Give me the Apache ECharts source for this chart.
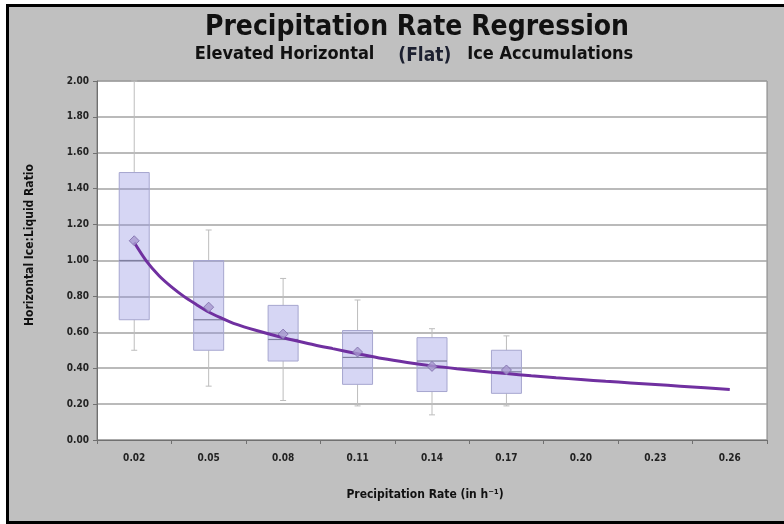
<!DOCTYPE html>
<html>
<head>
<meta charset="utf-8">
<script src="https://cdn.jsdelivr.net/npm/echarts@6/dist/echarts.min.js"></script>
<style>
html,body{margin:0;padding:0;background:#ffffff;}
#frame{position:absolute;left:6px;top:4px;width:778px;height:514px;border-left:3px solid #000;border-top:3px solid #000;border-bottom:3px solid #000;background:#c0c0c0;box-sizing:content-box;}
#chart{position:absolute;left:0;top:0;width:784px;height:524px;}
</style>
</head>
<body>
<div id="frame"></div>
<div id="chart"></div>
<script>
const categories = ['0.02','0.05','0.08','0.11','0.14','0.17','0.20','0.23','0.26'];
const boxMin    = [0.50, 0.30, 0.22, 0.19, 0.14, 0.19];
const boxQ1     = [0.67, 0.50, 0.44, 0.31, 0.27, 0.26];
const boxMedian = [1.00, 0.67, 0.56, 0.46, 0.44, 0.38];
const boxQ3     = [1.49, 1.00, 0.75, 0.61, 0.57, 0.50];
const boxMax    = [2.00, 1.17, 0.90, 0.78, 0.62, 0.58];
const means     = [1.11, 0.74, 0.59, 0.49, 0.41, 0.39];
const curveX = [0.02, 0.025, 0.03, 0.035, 0.04, 0.045, 0.05, 0.055, 0.06, 0.07, 0.08, 0.09, 0.10,
                0.11, 0.12, 0.13, 0.14, 0.15, 0.16, 0.17, 0.18, 0.19, 0.20, 0.21, 0.22, 0.23,
                0.24, 0.25, 0.26];
const curveY = [1.10, 0.995, 0.915, 0.853, 0.80, 0.755, 0.713, 0.68, 0.65, 0.607, 0.570, 0.538, 0.509,
                0.481, 0.454, 0.432, 0.413, 0.397, 0.383, 0.37, 0.358, 0.347, 0.337, 0.327, 0.318, 0.309,
                0.30, 0.291, 0.282];

const boxData = boxMin.map((v, i) => [i, boxMin[i], boxQ1[i], boxMedian[i], boxQ3[i], boxMax[i]]);
const meanData = means.map((v, i) => [i, v]);
const curveData = curveX.map((x, i) => [x, curveY[i]]);

const FONT = 'DejaVu Sans Condensed, DejaVu Sans, sans-serif';
const chart = echarts.init(document.getElementById('chart'), null, {renderer: 'canvas'});

function renderBox(params, api) {
  const idx = api.value(0);
  const pMin = api.coord([idx, api.value(1)]);
  const pQ1 = api.coord([idx, api.value(2)]);
  const pMed = api.coord([idx, api.value(3)]);
  const pQ3 = api.coord([idx, api.value(4)]);
  const pMax = api.coord([idx, api.value(5)]);
  const x = pQ1[0];
  const hw = 15;
  const cap = 3;
  const wStyle = {stroke: '#bdbdbd', lineWidth: 1};
  return {
    type: 'group',
    children: [
      {type: 'line', shape: {x1: x, y1: pMin[1], x2: x, y2: pQ1[1]}, style: wStyle},
      {type: 'line', shape: {x1: x, y1: pQ3[1], x2: x, y2: pMax[1]}, style: wStyle},
      {type: 'line', shape: {x1: x - cap, y1: pMin[1], x2: x + cap, y2: pMin[1]}, style: wStyle},
      {type: 'line', shape: {x1: x - cap, y1: pMax[1], x2: x + cap, y2: pMax[1]}, style: wStyle},
      {type: 'rect', shape: {x: x - hw, y: pQ3[1], width: hw * 2, height: pQ1[1] - pQ3[1]},
        style: {fill: 'rgba(140,140,225,0.36)', stroke: '#a6a6cf', lineWidth: 1}},
      {type: 'line', shape: {x1: x - hw, y1: pMed[1], x2: x + hw, y2: pMed[1]},
        style: {stroke: '#7f7f9f', lineWidth: 1.2}}
    ]
  };
}

const option = {
  backgroundColor: 'transparent',
  animation: false,
  title: [
    {text: 'Precipitation Rate Regression', left: 412, top: 9, textAlign: 'center',
      textStyle: {fontFamily: FONT, fontSize: 28, fontWeight: 'bold', color: '#111'}},
    {text: '{a|Elevated Horizontal}{gap|}{b|(Flat)}{gap2|}{a|Ice Accumulations}', left: 409, top: 38, textAlign: 'center',
      textStyle: {rich: {
        a: {fontFamily: FONT, fontSize: 18, fontWeight: 'bold', color: '#111'},
        b: {fontFamily: FONT, fontSize: 19, fontWeight: 'bold', color: '#1c2030', padding: [4, 0, 0, 0]},
        gap: {width: 24},
        gap2: {width: 16}
      }}}
  ],
  graphic: [
    {type: 'text', x: 30, y: 245, rotation: Math.PI / 2,
      style: {text: 'Horizontal Ice:Liquid Ratio', fontFamily: FONT, fontSize: 12, fontWeight: 'bold',
        fill: '#111', align: 'center', verticalAlign: 'middle'}}
  ],
  grid: {left: 97, right: 17, top: 81, bottom: 84, show: true, backgroundColor: '#ffffff',
    borderColor: '#808080', borderWidth: 1},
  xAxis: [
    {type: 'category', data: categories, boundaryGap: true,
      axisLine: {lineStyle: {color: '#707070', width: 1}},
      axisTick: {show: true, length: 4, lineStyle: {color: '#707070'}},
      axisLabel: {fontFamily: FONT, fontSize: 10, fontWeight: 'bold', color: '#222', margin: 13},
      name: 'Precipitation Rate (in h\u207B\u00B9)', nameLocation: 'middle', nameGap: 49,
      nameTextStyle: {fontFamily: FONT, fontSize: 12, fontWeight: 'bold', color: '#111', padding: [0, 14, 0, 0]}},
    {type: 'value', min: 0.005, max: 0.275, show: false}
  ],
  yAxis: {type: 'value', min: 0, max: 2, interval: 0.2,
    axisLine: {show: true, lineStyle: {color: '#707070', width: 1}},
    axisTick: {show: true, length: 4, lineStyle: {color: '#707070'}},
    axisLabel: {fontFamily: FONT, fontSize: 10, fontWeight: 'bold', color: '#222', margin: 8,
      formatter: v => v.toFixed(2)},
    splitLine: {show: true, lineStyle: {color: '#a3a3a3', width: 1.5}}},
  series: [
    {type: 'custom', name: 'box', xAxisIndex: 0, renderItem: renderBox, data: boxData,
      encode: {x: 0, y: [1, 2, 3, 4, 5]}, z: 2},
    {type: 'line', name: 'fit', xAxisIndex: 1, data: curveData, smooth: 0.3,
      showSymbol: false, lineStyle: {color: '#7030a0', width: 3}, z: 3},
    {type: 'scatter', name: 'mean', xAxisIndex: 0, data: meanData, symbol: 'diamond', symbolSize: 10,
      itemStyle: {color: '#a899cf', borderColor: '#7b6aa8', borderWidth: 1}, z: 4}
  ]
};
chart.setOption(option);
</script>
</body>
</html>
